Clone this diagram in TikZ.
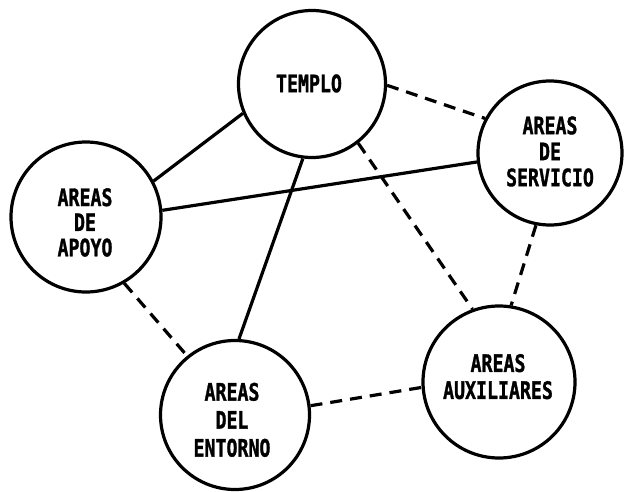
\documentclass[tikz,border=0pt]{standalone}
\usepackage{fontspec}
\usepackage{graphicx}
\newfontfamily\plotfont[BoldFeatures={FakeBold=1.5}]{DejaVu Sans Mono}
\newcommand\plotlbl[1]{\scalebox{0.76}[1]{\begin{tabular}{@{}c@{}}#1\end{tabular}}}
\begin{document}
\begin{tikzpicture}[x=1pt,y=-1pt,
  room/.style={circle, draw=black, line width=3.2pt, inner sep=0pt},
  lbl/.style={inner sep=0pt, font=\plotfont\bfseries\fontsize{24}{#1}\selectfont},
  lbl/.default=26,
  solidlink/.style={draw=black, line width=3.2pt},
  dashlink/.style={draw=black, line width=3.2pt, dash pattern=on 12pt off 8pt}]
\useasboundingbox (0,0) rectangle (624,492);
% circles
\node[room, minimum size=147pt] (templo)   at (312,84)  {};
\node[room, minimum size=144pt] (servicio) at (550,153) {};
\node[room, minimum size=150pt] (apoyo)    at (86,217)  {};
\node[room, minimum size=149pt] (entorno)  at (235,415) {};
\node[room, minimum size=152pt] (aux)      at (499,382) {};
% labels
\node[lbl] (tT) at (309,87)  {\plotlbl{TEMPLO}};
\node[lbl] (tS) at (550,155) {\plotlbl{AREAS\\DE\\SERVICIO}};
\node[lbl=25] (tA) at (85,226)  {\plotlbl{AREAS\\DE\\APOYO}};
\node[lbl=28] (tE) at (232,423) {\plotlbl{AREAS\\DEL\\ENTORNO}};
\node[lbl=27] (tX) at (498,380) {\plotlbl{AREAS\\AUXILIARES}};
% solid links
\draw[solidlink] (templo.203) -- (apoyo.28);
\draw[solidlink] (apoyo.5) -- (servicio.187);
\draw[solidlink] (templo.263) -- (entorno.87);
% dashed links
\draw[dashlink] (templo.-1) -- (servicio.152);
\draw[dashlink] (templo.-52) -- (aux.110);
\draw[dashlink] (servicio.259) -- (aux.81);
\draw[dashlink] (apoyo.-60) -- (entorno.129);
\draw[dashlink] (entorno.7) -- (aux.184);
\end{tikzpicture}
\end{document}
